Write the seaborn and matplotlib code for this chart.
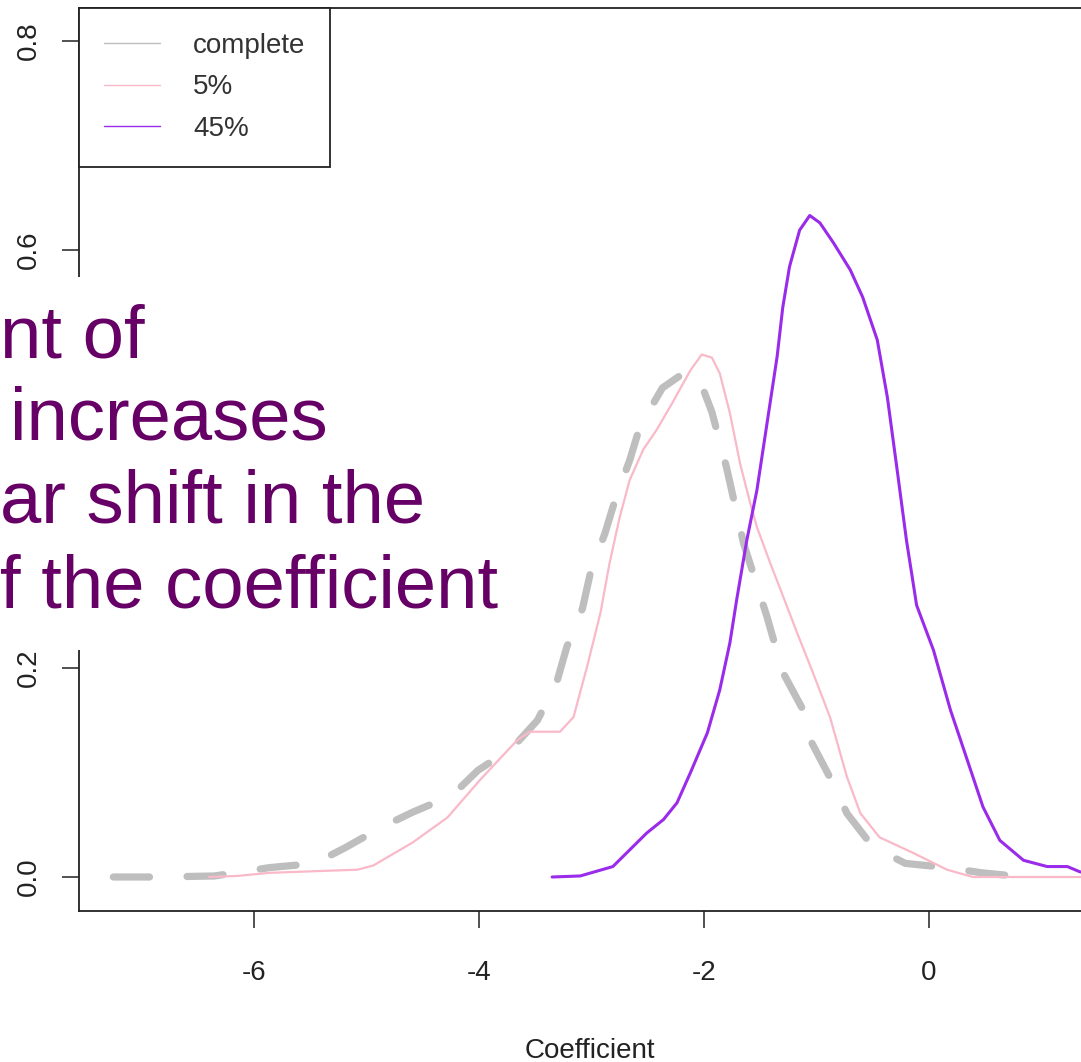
import matplotlib
matplotlib.use("Agg")
import matplotlib.pyplot as plt
import seaborn as sns
from matplotlib.lines import Line2D
from matplotlib.patches import Rectangle

# ---- data ----
complete_x = [-7.25, -6.84, -6.35, -5.86, -5.46, -5.19, -4.86, -4.59, -4.24, -4.01, -3.70, -3.48,
              -3.31, -3.22, -3.08, -3.01, -2.88, -2.79, -2.66, -2.57, -2.37, -2.17, -2.04, -1.93,
              -1.80, -1.65, -1.44, -1.30, -1.12, -1.04, -0.86, -0.73, -0.50, -0.21, 0.16, 0.47, 0.85]
complete_y = [0.0, 0.0, 0.001, 0.009, 0.013, 0.028, 0.048, 0.062, 0.078, 0.102, 0.124, 0.150,
              0.186, 0.220, 0.257, 0.291, 0.329, 0.361, 0.399, 0.431, 0.468, 0.483, 0.476, 0.445,
              0.392, 0.320, 0.249, 0.196, 0.160, 0.128, 0.091, 0.061, 0.029, 0.013, 0.009, 0.004, 0.0]

pct5_x = [-6.40, -6.15, -5.86, -5.08, -4.94, -4.59, -4.28, -3.99, -3.66, -3.55, -3.28, -3.16,
          -3.04, -2.92, -2.84, -2.75, -2.66, -2.54, -2.42, -2.28, -2.12, -2.02, -1.93, -1.86,
          -1.77, -1.68, -1.59, -1.53, -1.41, -1.32, -1.17, -1.03, -0.88, -0.73, -0.61, -0.44,
          -0.14, 0.16, 0.39, 0.75, 1.34, 1.60]
pct5_y = [0.0, 0.001, 0.004, 0.007, 0.011, 0.033, 0.057, 0.093, 0.131, 0.139, 0.139, 0.153,
          0.201, 0.253, 0.300, 0.344, 0.380, 0.409, 0.428, 0.454, 0.485, 0.500, 0.497, 0.482,
          0.444, 0.396, 0.358, 0.335, 0.300, 0.275, 0.233, 0.195, 0.153, 0.096, 0.061, 0.038,
          0.023, 0.007, 0.0, 0.0, 0.0, 0.0]

pct45_x = [-3.35, -3.10, -2.81, -2.66, -2.51, -2.36, -2.24, -2.12, -1.97, -1.86, -1.77, -1.71,
           -1.62, -1.53, -1.44, -1.35, -1.30, -1.24, -1.15, -1.06, -0.97, -0.85, -0.70, -0.59,
           -0.46, -0.37, -0.28, -0.20, -0.11, 0.04, 0.19, 0.34, 0.48, 0.63, 0.84, 1.05, 1.23,
           1.34, 1.60]
pct45_y = [0.0, 0.001, 0.010, 0.026, 0.042, 0.055, 0.071, 0.100, 0.138, 0.179, 0.224, 0.265,
           0.322, 0.370, 0.434, 0.498, 0.545, 0.584, 0.619, 0.633, 0.626, 0.607, 0.581, 0.555,
           0.514, 0.459, 0.387, 0.322, 0.260, 0.217, 0.160, 0.112, 0.067, 0.035, 0.016, 0.010,
           0.010, 0.005, 0.0]

legend_labels = ["complete", "5%", "45%"]
x_ticks = [-6, -4, -2, 0]
y_ticks = [0.0, 0.2, 0.6, 0.8]          # 0.4 is hidden by the slide text box
y_tick_labels = ["0.0", "0.2", "0.6", "0.8"]
x_label = "Coefficient"
overlay_lines = ["nt of", "increases", "ar shift in the", "f the coefficient"]

# ---- styling ----
sns.set_theme(style="ticks")
plt.rcParams["font.family"] = ["Liberation Sans", "DejaVu Sans"]

W, H = 1081, 1062
fig = plt.figure(figsize=(W / 100, H / 100), dpi=100)
fig.patch.set_facecolor("white")

left_px, right_px, top_px, bottom_px = 79, 1100, 8, 911
ax = fig.add_axes([left_px / W, (H - bottom_px) / H, (right_px - left_px) / W, (bottom_px - top_px) / H])

x_per_px = 1 / 112.5
y_per_px = 1 / 1045.0
ax.set_xlim((left_px - 929) * x_per_px, (right_px - 929) * x_per_px)
ax.set_ylim((877 - bottom_px) * y_per_px, (877 - top_px) * y_per_px)

gray = "#BEBEBE"
pink = "#F9B9C8"
purple = "#9A2BEA"

sns.lineplot(x=complete_x, y=complete_y, ax=ax, color=gray, lw=5.2, estimator=None, sort=False)
ln = ax.lines[-1]
ln.set_linestyle((0, (5.0, 5.2)))
ln.set_dash_capstyle("round")
ln.set_solid_joinstyle("round")
sns.lineplot(x=pct5_x, y=pct5_y, ax=ax, color=pink, lw=1.6, estimator=None, sort=False)
ax.lines[-1].set_solid_joinstyle("round")
sns.lineplot(x=pct45_x, y=pct45_y, ax=ax, color=purple, lw=2.2, estimator=None, sort=False)
ax.lines[-1].set_solid_joinstyle("round")

for s in ax.spines.values():
    s.set_color("#222222")
    s.set_linewidth(1.3)

ax.set_xticks(x_ticks)
ax.set_xticklabels([str(t) for t in x_ticks])
ax.set_yticks(y_ticks)
ax.set_yticklabels(y_tick_labels, rotation=90, va="center")
ax.tick_params(axis="both", direction="out", length=12.5, width=1.1, color="#222222",
               labelsize=20, labelcolor="#222222")
ax.tick_params(axis="x", pad=23)
ax.tick_params(axis="y", pad=14)
ax.set_xlabel(x_label, fontsize=20, color="#222222")
ax.xaxis.set_label_coords(0.5, -0.155)
ax.xaxis.label.set_va("center")
ax.set_ylabel("")

handles = [Line2D([], [], color=gray, lw=1.0),
           Line2D([], [], color=pink, lw=1.0),
           Line2D([], [], color=purple, lw=1.0)]
leg = ax.legend(handles, legend_labels, loc="upper left", bbox_to_anchor=(0, 1),
                borderaxespad=0, frameon=True, fancybox=False, edgecolor="#222222",
                framealpha=1, fontsize=20, handlelength=2.0, handletextpad=1.2,
                borderpad=0.9, labelspacing=0.55)
leg.get_frame().set_linewidth(1.3)
for t in leg.get_texts():
    t.set_color("#333333")

# ---- overlaid slide text box ----
fig.patches.append(Rectangle((0, (H - 650) / H), 530 / W, (650 - 277) / H,
                             transform=fig.transFigure, facecolor="white",
                             edgecolor="none", zorder=10))
line_x = [0, 10, 0, 0]
line_base = [357, 440, 523, 607]
for s, xp, yb in zip(overlay_lines, line_x, line_base):
    fig.text(xp / W, 1 - yb / H, s, ha="left", va="baseline", fontsize=53.5,
             color="#660066", zorder=11)

fig.savefig("out.png", dpi=100, facecolor="white")
